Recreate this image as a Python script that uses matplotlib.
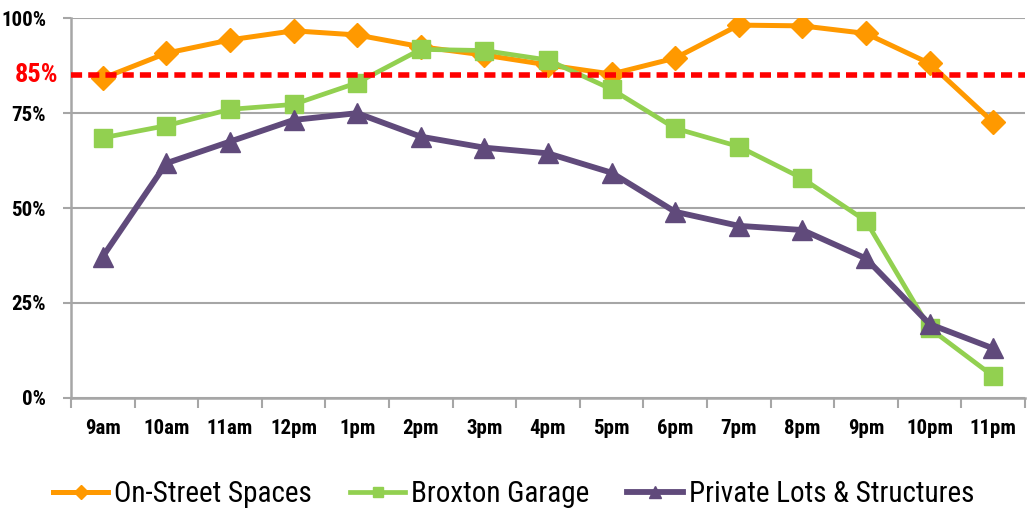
import matplotlib
matplotlib.use("Agg")
import matplotlib.pyplot as plt
from matplotlib.transforms import ScaledTranslation
from matplotlib.ticker import FixedLocator, NullFormatter

plt.rcParams['font.family'] = ['Roboto Condensed', 'Open Sans Condensed',
                               'IBM Plex Sans Condensed', 'DejaVu Sans']

# hourly occupancy (%)
hours = ['9am', '10am', '11am', '12pm', '1pm', '2pm', '3pm', '4pm',
         '5pm', '6pm', '7pm', '8pm', '9pm', '10pm', '11pm']
on_street = [84.2, 90.8, 94.3, 96.7, 95.6, 92.5, 90.3, 87.7,
             85.3, 89.5, 98.2, 98.0, 96.0, 88.1, 72.6]
broxton = [68.5, 71.7, 76.0, 77.3, 83.0, 91.8, 91.5, 89.0,
           81.3, 71.0, 66.2, 57.8, 46.6, 18.3, 5.7]
private_lots = [37.2, 61.8, 67.5, 73.2, 75.0, 68.8, 65.9, 64.4,
                59.3, 49.0, 45.3, 44.2, 36.7, 19.4, 13.0]
target = 85

fig = plt.figure(figsize=(10.27, 5.12), dpi=100)
ax = fig.add_axes([0.0691, 0.2232, 0.9289, 0.7411])

x = range(len(hours))
ax.plot(x, on_street, color='#FF9900', lw=3.6, marker='D', ms=12,
        label='On-Street Spaces', zorder=3)
ax.plot(x, broxton, color='#92D050', lw=3.4, marker='s', ms=13,
        label='Broxton Garage', zorder=4)
ax.plot(x, private_lots, color='#604A7B', lw=4.2, marker='^', ms=15,
        label='Private Lots & Structures', zorder=5)

ax.axhline(target, color='#FF0000', lw=4.0, dashes=(2.0, 1.1), zorder=6)

ax.set_xlim(-0.5, len(hours) - 0.5)
ax.set_ylim(0, 100)

# y axis: gridlines every 25%, plus the red target label
ax.set_yticks([0, 25, 50, 75, 100])
ax.set_yticklabels(['0%', '25%', '50%', '75%', '100%'])
ax.yaxis.grid(True, color='#A6A6A6', lw=1.5)
ax.set_axisbelow(True)
ax.tick_params(axis='y', length=6, width=1.5, color='#A6A6A6', pad=12,
               labelsize=15)
label_shift = ScaledTranslation(-0.13, 0, fig.dpi_scale_trans)
ax.text(0, target, f'{target}%', transform=ax.get_yaxis_transform() + label_shift,
        ha='right', va='center', color='#FF0000', fontsize=19,
        fontweight='bold')

# x axis: ticks between categories, labels centred
ax.xaxis.set_major_locator(FixedLocator([i + 0.5 for i in range(-1, len(hours))]))
ax.xaxis.set_major_formatter(NullFormatter())
ax.xaxis.set_minor_locator(FixedLocator(list(x)))
ax.set_xticklabels(hours, minor=True)
ax.tick_params(axis='x', which='major', length=7, width=1.5, color='#A6A6A6')
ax.tick_params(axis='x', which='minor', length=0, pad=15, labelsize=15)
for lbl in ax.get_xticklabels(minor=True) + ax.get_yticklabels():
    lbl.set_fontweight('bold')

for side in ['top', 'right']:
    ax.spines[side].set_visible(False)
for side in ['left', 'bottom']:
    ax.spines[side].set_color('#A6A6A6')
    ax.spines[side].set_linewidth(1.8)

fig.legend(loc='center', bbox_to_anchor=(0.5, 0.035), ncol=3, frameon=False,
           fontsize=21, handlelength=1.9, columnspacing=1.3,
           handletextpad=0.2, markerscale=0.6)

fig.savefig('out.png', dpi=100)
